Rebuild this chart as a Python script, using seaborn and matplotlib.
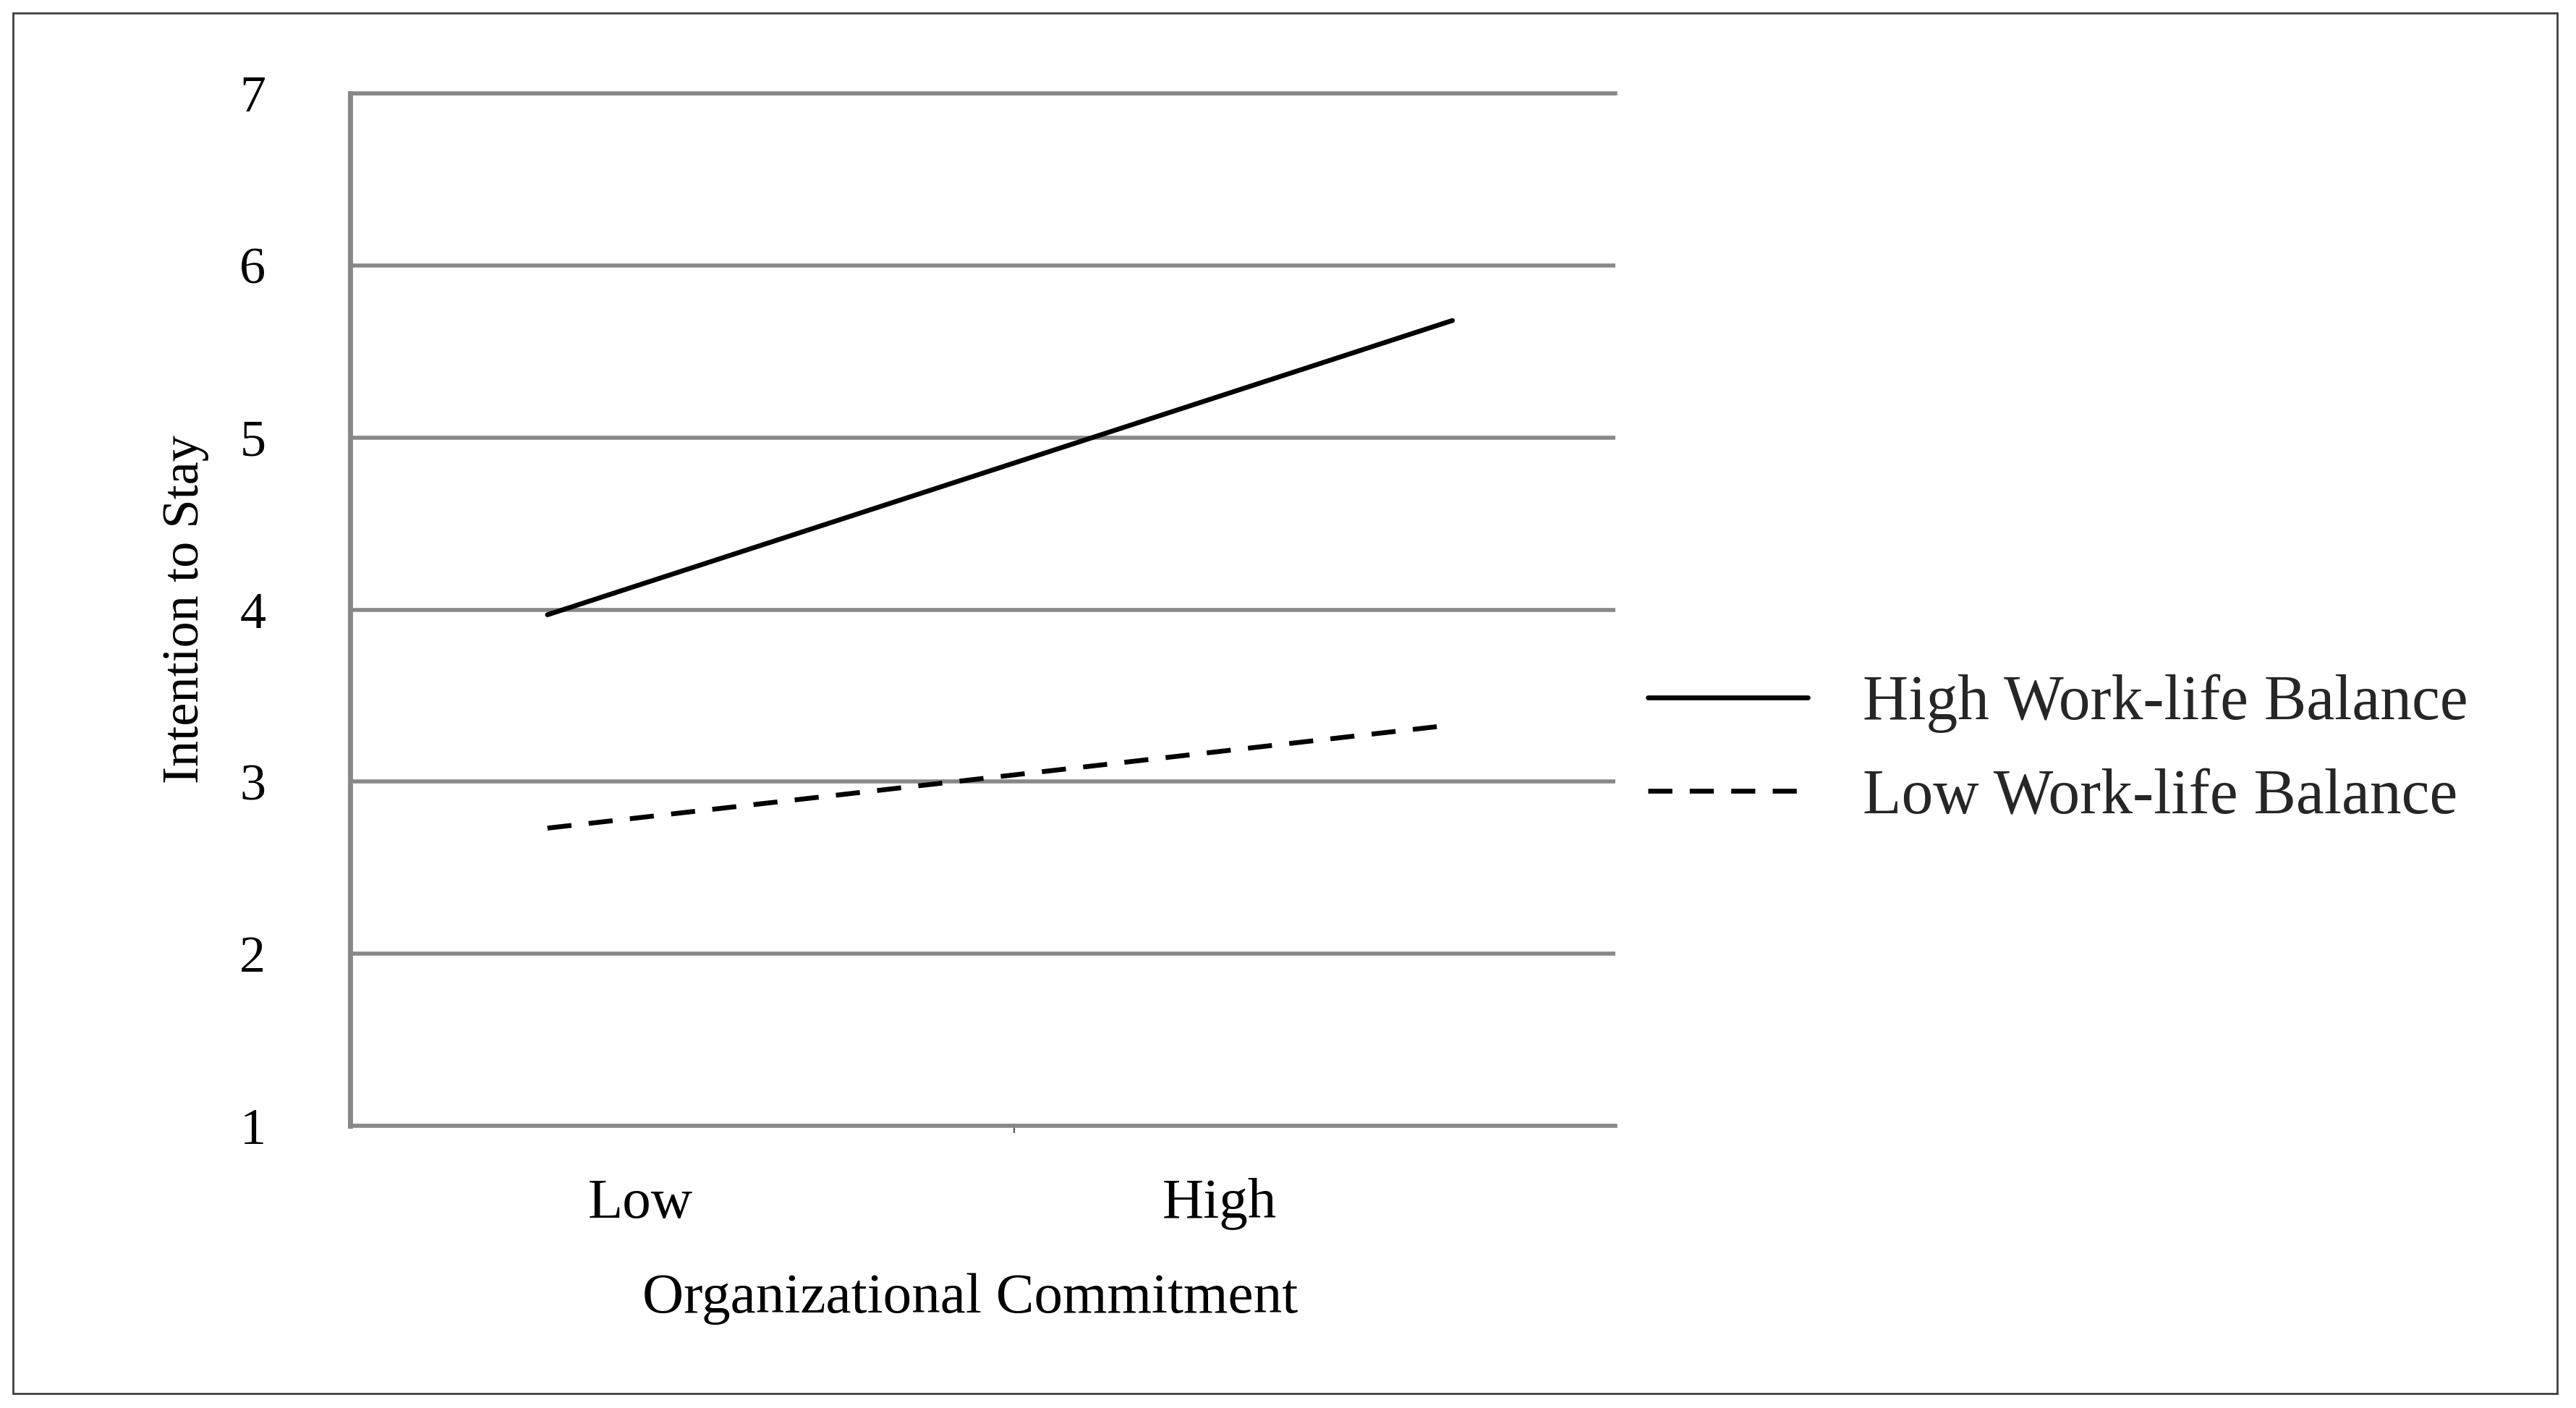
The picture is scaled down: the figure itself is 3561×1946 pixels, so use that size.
import pandas as pd
import matplotlib
matplotlib.use('Agg')
import matplotlib.pyplot as plt
import seaborn as sns
from matplotlib.lines import Line2D
from matplotlib.patches import Rectangle

# values
commitment = ['Low', 'High']
commitment_x = [0, 1]
high_wlb = [3.97, 5.68]
low_wlb = [2.73, 3.33]
series_names = ['High Work-life Balance', 'Low Work-life Balance']
y_ticks = [1, 2, 3, 4, 5, 6, 7]

df = pd.DataFrame({
    'x': commitment_x * 2,
    'value': high_wlb + low_wlb,
    'series': [series_names[0]] * 2 + [series_names[1]] * 2,
})

sns.set_theme(style='white')
plt.rcParams['font.family'] = ['Liberation Serif', 'DejaVu Serif']

fig = plt.figure(figsize=(35.62, 19.46), dpi=100)
ax = fig.add_axes([0.1359, 0.2004, 0.4910, 0.7333])

dash_map = {series_names[0]: '', series_names[1]: (5, 3.6)}
sns.lineplot(data=df, x='x', y='value', style='series', color='black',
             dashes=dash_map, linewidth=4.8, ax=ax, legend=False)

# axes styling
grid_col = '#888888'
ax.set_xlim(-0.218, 1.180)
ax.set_ylim(1, 7)
ax.set_yticks(y_ticks)
ax.grid(axis='y', color=grid_col, linewidth=4)
ax.grid(axis='x', visible=False)
ax.set_axisbelow(True)
ax.spines['right'].set_visible(False)
for side in ['left', 'bottom', 'top']:
    ax.spines[side].set_color(grid_col)
    ax.spines[side].set_linewidth(4)
ax.spines['left'].set_linewidth(5)

ax.set_xticks([0.103, 0.743], labels=commitment)
ax.set_xticks([0.516], minor=True)
ax.tick_params(axis='x', which='major', length=0, pad=52, labelsize=57, colors='black')
ax.tick_params(axis='x', which='minor', bottom=True, length=7, width=1.5, color='#555555', direction='out')
ax.tick_params(axis='y', length=0, pad=84, labelsize=52, colors='black')

ax.set_xlabel('Organizational Commitment', fontsize=57, color='black', va='center')
ax.xaxis.set_label_coords(0.49, -0.1675)
ax.set_ylabel('Intention to Stay', fontsize=52, color='black', va='center')
ax.yaxis.set_label_coords(-0.13, 0.5)

handles = [Line2D([], [], color='black', lw=4.8, linestyle='-'),
           Line2D([], [], color='black', lw=4.8, linestyle=(0, (5, 3.6)))]
fig.legend(handles, series_names, loc='center left',
           bbox_to_anchor=(0.6395, 0.467), bbox_transform=fig.transFigure,
           frameon=False, fontsize=63, handlelength=2.53, handletextpad=0.86,
           labelspacing=0.55, borderpad=0, borderaxespad=0)

# thin frame around the whole figure
fig.add_artist(Rectangle((0.00505, 0.0103), 0.9874, 0.9805, transform=fig.transFigure,
                         fill=False, edgecolor='#404040', linewidth=2))

fig.savefig('out.png', dpi=100)
